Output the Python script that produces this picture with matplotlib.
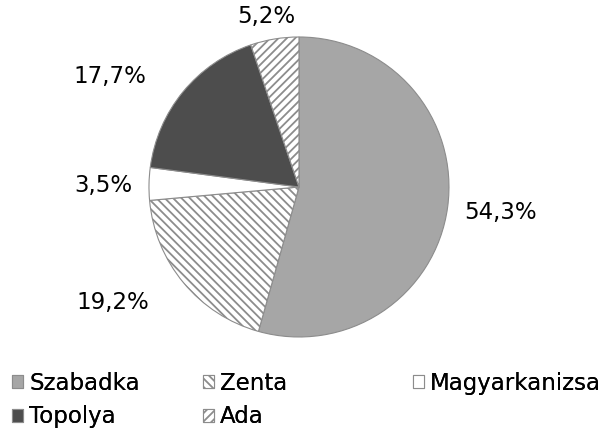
import matplotlib
matplotlib.use("Agg")
import matplotlib.pyplot as plt
from matplotlib.patches import Patch

categories = ["Szabadka", "Zenta", "Magyarkanizsa", "Topolya", "Ada"]
values = [54.3, 19.2, 3.5, 17.7, 5.2]
labels = ["54,3%", "19,2%", "3,5%", "17,7%", "5,2%"]
colors = ["#a6a6a6", "#ffffff", "#ffffff", "#4d4d4d", "#ffffff"]
hatches = [None, "\\\\\\\\", None, None, "////"]

plt.rcParams['font.family'] = ['DejaVu Sans']
plt.rcParams['hatch.color'] = '#333333'
plt.rcParams['hatch.linewidth'] = 1.3

fig = plt.figure(figsize=(6, 4.3), dpi=100)
ax = fig.add_axes([0.2483, 0.2163, 0.5, 0.6977])
wedges, _ = ax.pie(values, colors=colors, startangle=90, counterclock=False,
                   wedgeprops=dict(edgecolor="#8c8c8c", linewidth=0.8))
for w, h in zip(wedges, hatches):
    if h:
        w.set_hatch(h)
ax.set_aspect("equal")
ax.set_xlim(-1, 1)
ax.set_ylim(-1, 1)

# label positions in pixel coordinates of the figure
label_pos = [(500, 213), (113, 302), (103, 186), (110, 76), (266, 17)]
for (px, py), t in zip(label_pos, labels):
    fig.text(px / 600, 1 - py / 430, t, fontsize=16.5, ha="center", va="center")

handles = [Patch(facecolor=c, edgecolor="#8c8c8c", hatch=h, linewidth=0.8)
           for c, h in zip(colors, hatches)]
# legend laid out row-wise in 3 equal columns
columns = [[0, 3], [1, 4], [2]]
col_x = [12, 203, 413]
for idxs, cx in zip(columns, col_x):
    lg = fig.legend([handles[i] for i in idxs], [categories[i] for i in idxs],
                    loc="upper left", bbox_to_anchor=(cx / 600, 1 - 372 / 430),
                    frameon=False, fontsize=16.5, handlelength=0.5, handleheight=0.5,
                    handletextpad=0.25, labelspacing=0.45, borderpad=0, borderaxespad=0)
    fig.add_artist(lg)
fig.savefig("out.png", dpi=100)
